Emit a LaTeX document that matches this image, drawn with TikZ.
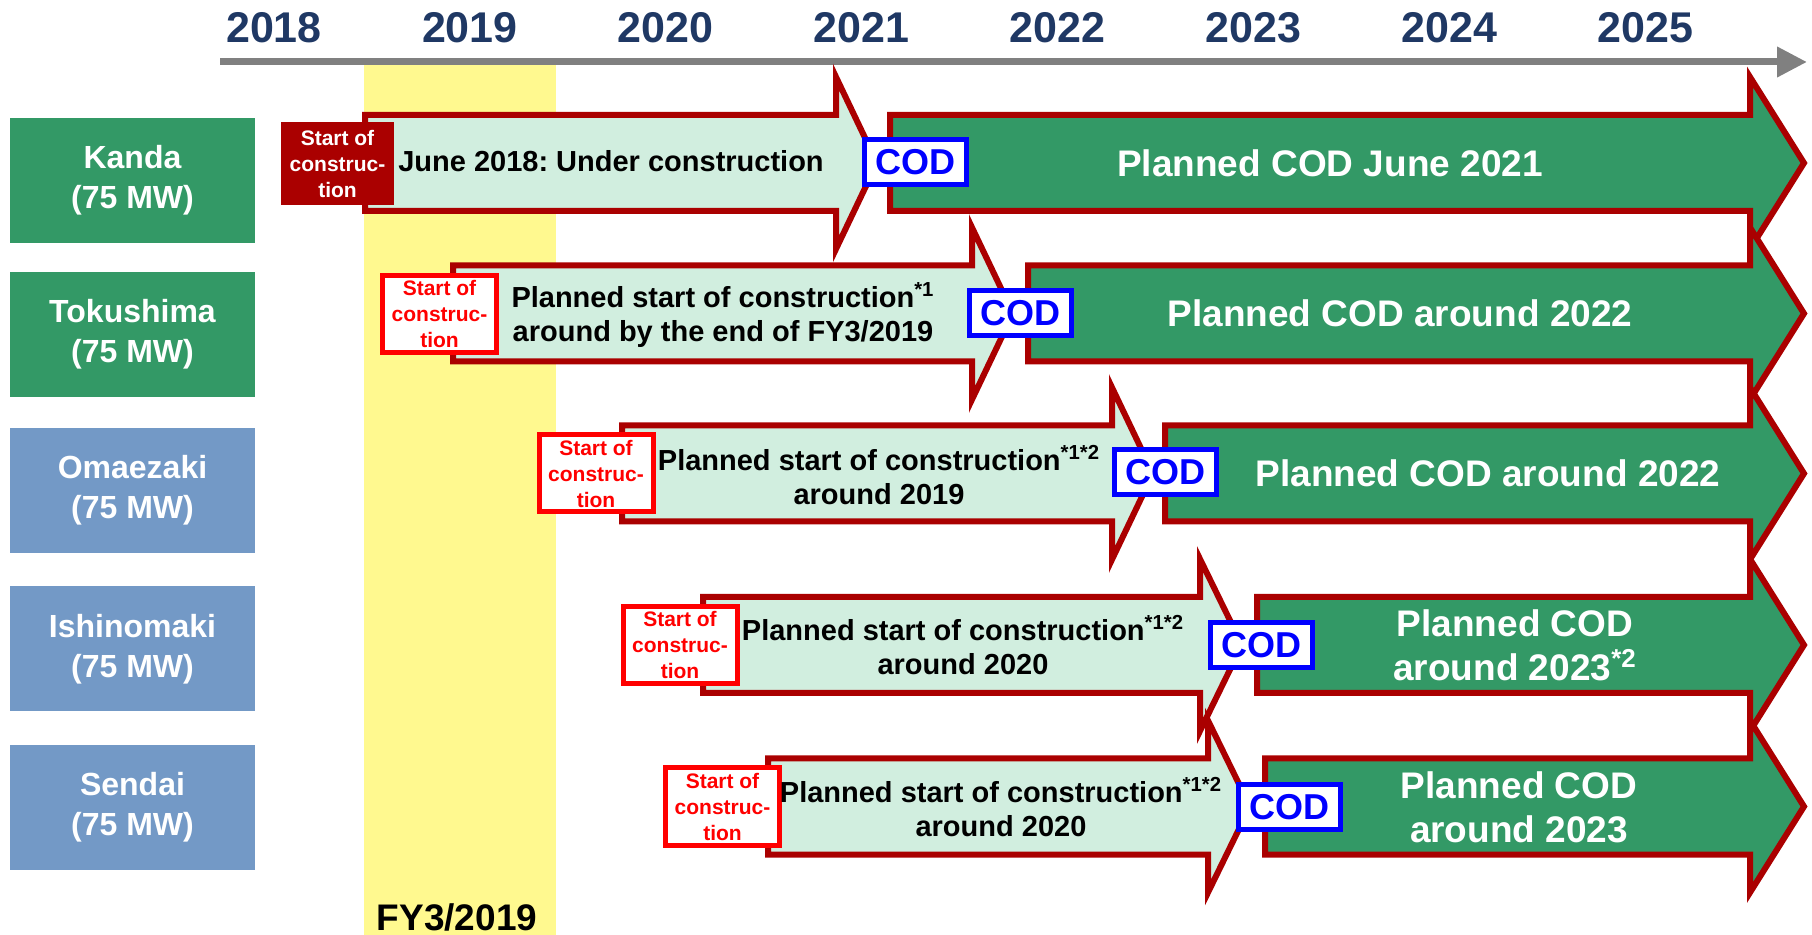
\documentclass[tikz,border=0pt]{standalone}
\usepackage{fontspec}
\setmainfont{Liberation Sans}
\usetikzlibrary{arrows.meta}
\frenchspacing

\definecolor{navy}{HTML}{1F3864}
\definecolor{sitegreen}{HTML}{339966}
\definecolor{siteblue}{HTML}{7399C6}
\definecolor{buildfill}{HTML}{D1EEDF}
\definecolor{darkred}{HTML}{AA0000}
\definecolor{fyyellow}{HTML}{FFF98F}
\definecolor{axisgray}{HTML}{808080}
\definecolor{codblue}{HTML}{0000FF}

\begin{document}
\begin{tikzpicture}[x=0.5pt, y=-0.5pt]
    % Define styles
    \tikzset{
        yearlbl/.style={
            font=\bfseries\fontsize{21.5}{25}\selectfont,
            text=navy
        },
        axisline/.style={
            axisgray,
            line width=3.5pt,
            -{Triangle[length=15pt, width=14.5pt]}
        },
        site/.style={
            rectangle,
            minimum width=122.5pt,
            minimum height=62.5pt,
            align=center,
            text=white,
            font=\bfseries\fontsize{16}{20}\selectfont
        },
        buildarrow/.style={
            fill=buildfill,
            draw=darkred,
            line width=3pt,
            line join=miter
        },
        codarrow/.style={
            fill=sitegreen,
            draw=darkred,
            line width=3pt,
            line join=miter
        },
        startbox/.style={
            rectangle,
            draw=red,
            fill=white,
            text=red,
            line width=2.5pt,
            minimum width=57pt,
            minimum height=38.5pt,
            inner sep=0pt,
            align=center,
            font=\bfseries\fontsize{10.5}{13}\selectfont
        },
        startdone/.style={
            draw=none,
            fill=darkred,
            text=white,
            minimum width=56.5pt,
            minimum height=41.5pt
        },
        codbox/.style={
            rectangle,
            draw=codblue,
            fill=white,
            text=codblue,
            line width=2.5pt,
            minimum width=51pt,
            minimum height=22.5pt,
            inner sep=0pt,
            font=\bfseries\fontsize{18}{20}\selectfont
        },
        plantext/.style={
            align=center,
            font=\bfseries\fontsize{14.5}{17}\selectfont
        },
        codtext/.style={
            align=center,
            text=white,
            font=\bfseries\fontsize{18.5}{22}\selectfont
        }
    }
    \useasboundingbox (0,0) rectangle (1812,935);

    % FY3/2019 band
    \fill[fyyellow] (364,65) rectangle (556,935);
    \node[font=\bfseries\fontsize{18.5}{22}\selectfont] (fy) at (457,917) {FY3/2019};

    % Time axis
    \coordinate (axisstart) at (220,62);
    \coordinate (axisend) at (1807,62);
    \draw[axisline] (axisstart) -- (axisend);
    \foreach \yr [count=\i from 0] in {2018,...,2025}
        \node[yearlbl] (year\yr) at (274+195.9*\i,28) {\yr};

    % Sites
    \foreach \name/\yc/\col [count=\i] in {Kanda/180.5/sitegreen, Tokushima/334.5/sitegreen,
        Omaezaki/490.5/siteblue, Ishinomaki/649/siteblue, Sendai/807.5/siteblue}
        \node[site, fill=\col] (site\i) at (132.5,\yc) {\name\\(75 MW)};

    % Construction and operation arrows
    \foreach \ym/\la/\lb/\lt/\ga in {163/365/836/877/890, 313.5/453/972/1013/1028,
        473.5/622/1112/1153/1165, 645/703/1200/1242/1257, 806.5/768/1208/1250/1265} {
        \draw[buildarrow] (\la,\ym-48) -- (\lb,\ym-48) -- (\lb,\ym-86) -- (\lt,\ym)
            -- (\lb,\ym+86) -- (\lb,\ym+48) -- (\la,\ym+48) -- cycle;
        \draw[codarrow] (\ga,\ym-48) -- (1750,\ym-48) -- (1750,\ym-86) -- (1804,\ym)
            -- (1750,\ym+86) -- (1750,\ym+48) -- (\ga,\ym+48) -- cycle;
    }

    % Start of construction
    \node[startbox, startdone] (start1) at (337.5,163.5) {Start of\\construc-\\tion};
    \node[startbox] (start2) at (439.5,314) {Start of\\construc-\\tion};
    \node[startbox] (start3) at (596,473.5) {Start of\\construc-\\tion};
    \node[startbox] (start4) at (680,645) {Start of\\construc-\\tion};
    \node[startbox] (start5) at (722.5,806.5) {Start of\\construc-\\tion};

    % COD marks
    \node[codbox] (cod1) at (915.5,162) {COD};
    \node[codbox] (cod2) at (1020,313) {COD};
    \node[codbox] (cod3) at (1165,472.5) {COD};
    \node[codbox] (cod4) at (1261.5,645) {COD};
    \node[codbox] (cod5) at (1289.5,807) {COD};

    % Construction texts
    \node[plantext] (plan1) at (611,161) {June 2018: Under construction};
    \node[plantext] (plan2) at (723,315) {Planned start of construction\textsuperscript{*1}\\around by the end of FY3/2019};
    \node[plantext] (plan3) at (879,475) {Planned start of construction\textsuperscript{*1*2}\\around 2019};
    \node[plantext] (plan4) at (963,645) {Planned start of construction\textsuperscript{*1*2}\\around 2020};
    \node[plantext] (plan5) at (1001,807) {Planned start of construction\textsuperscript{*1*2}\\around 2020};

    % Operation texts
    \node[codtext] (op1) at (1330,163) {Planned COD June 2021};
    \node[codtext] (op2) at (1400,313) {Planned COD around 2022};
    \node[codtext] (op3) at (1488,473) {Planned COD around 2022};
    \node[codtext] (op4) at (1515,645) {Planned COD\\around 2023\textsuperscript{*2}};
    \node[codtext] (op5) at (1519,807) {Planned COD\\around 2023};

\end{tikzpicture}
\end{document}
